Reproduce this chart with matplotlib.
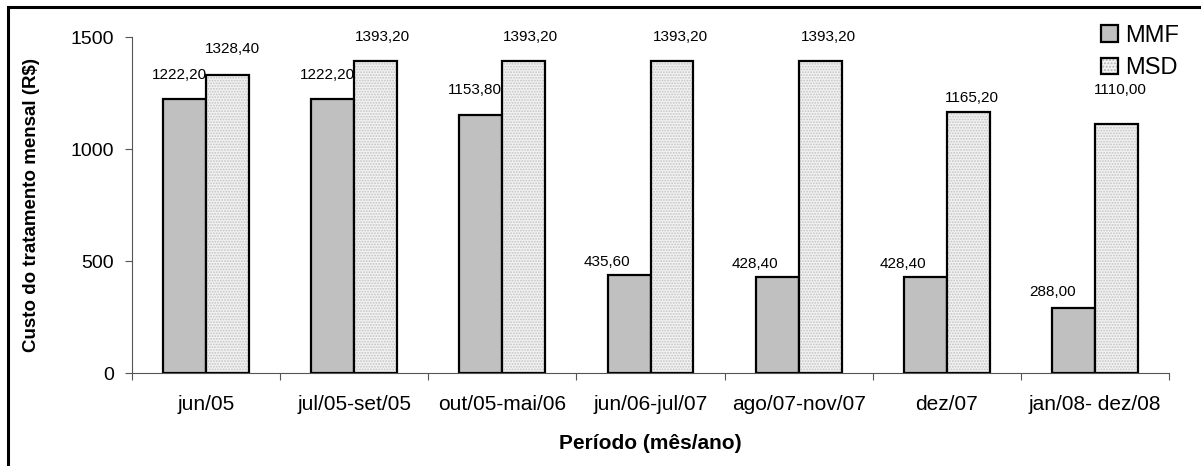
import matplotlib.pyplot as plt
import numpy as np
from matplotlib.patches import Rectangle

plt.rcParams['font.family'] = ['Liberation Sans', 'DejaVu Sans']
plt.rcParams['hatch.linewidth'] = 0.9

periodos = ['jun/05', 'jul/05-set/05', 'out/05-mai/06', 'jun/06-jul/07',
            'ago/07-nov/07', 'dez/07', 'jan/08- dez/08']
mmf = [1222.20, 1222.20, 1153.80, 435.60, 428.40, 428.40, 288.00]
msd = [1328.40, 1393.20, 1393.20, 1393.20, 1393.20, 1165.20, 1110.00]

# label offsets (pixels) as placed in the original
mmf_off = [(-5, 24), (-5, 24), (-6, 25), (-22, 13), (-22, 13), (-22, 13), (-21, 16)]
msd_off = [(5, 26), (7, 24), (7, 24), (8, 24), (8, 24), (4, 14), (4, 34)]


def fmt(v):
    return f'{v:.2f}'.replace('.', ',')


fig = plt.figure(figsize=(12.01, 4.66), dpi=100)
# outer frame (left and top visible)
fig.patches.append(Rectangle((8 / 1201, -0.1), 1.2, 1 - 7 / 466 + 0.1,
                             transform=fig.transFigure, fill=False,
                             edgecolor='black', linewidth=2.2))

ax = fig.add_axes([132 / 1201, 1 - 373 / 466, (1169 - 132) / 1201, (373 - 37) / 466])

x = np.arange(len(periodos)) + 0.5
w = 0.29

ax.bar(x - w / 2, mmf, w, color='#c0c0c0', edgecolor='black', linewidth=1.6, label='MMF')
ax.bar(x + w / 2, msd, w, color='#f2f2f2', edgecolor='#c4c4c4', linewidth=0,
       hatch='......')
ax.bar(x + w / 2, msd, w, fill=False, edgecolor='black', linewidth=1.6)

px = 0.72  # points per pixel at 100 dpi
for xi, v, (dx, dy) in zip(x, mmf, mmf_off):
    ax.annotate(fmt(v), (xi - w / 2, v), xytext=(dx * px, dy * px), textcoords='offset points',
                ha='center', va='center', fontsize=11)
for xi, v, (dx, dy) in zip(x, msd, msd_off):
    ax.annotate(fmt(v), (xi + w / 2, v), xytext=(dx * px, dy * px), textcoords='offset points',
                ha='center', va='center', fontsize=11)

ax.set_xlim(0, len(periodos))
ax.set_ylim(0, 1500)
ax.set_yticks([0, 500, 1000, 1500])
ax.set_xticks(np.arange(len(periodos) + 1))
ax.set_xticklabels([])
ax.set_xticks(x, minor=True)
ax.set_xticklabels(periodos, minor=True)
ax.tick_params(axis='x', which='minor', length=0, labelsize=15, pad=16)
ax.tick_params(axis='x', which='major', length=5, color='#555555')
ax.tick_params(axis='y', labelsize=14, length=5, color='#555555', pad=8)

for s in ['top', 'right']:
    ax.spines[s].set_visible(False)
ax.spines['left'].set_color('#555555')
ax.spines['bottom'].set_color('#555555')

ax.set_ylabel('Custo do tratamento mensal (R$)', fontsize=13.5, fontweight='bold', labelpad=22)
ax.set_xlabel('Período (mês/ano)', fontsize=15, fontweight='bold', labelpad=14)

h1 = Rectangle((0, 0), 1, 1, facecolor='#c0c0c0', edgecolor='black', linewidth=1.6)
h2a = Rectangle((0, 0), 1, 1, facecolor='#f2f2f2', edgecolor='#b0b0b0', linewidth=0, hatch='.....')
h2b = Rectangle((0, 0), 1, 1, fill=False, edgecolor='black', linewidth=1.6)
ax.legend([h1, (h2a, h2b)], ['MMF', 'MSD'], loc='upper right', bbox_to_anchor=(1.03, 1.1),
          frameon=False, fontsize=17, handlelength=0.7, handleheight=0.7,
          handletextpad=0.3, labelspacing=0.45)

fig.savefig('out.png', dpi=100)
